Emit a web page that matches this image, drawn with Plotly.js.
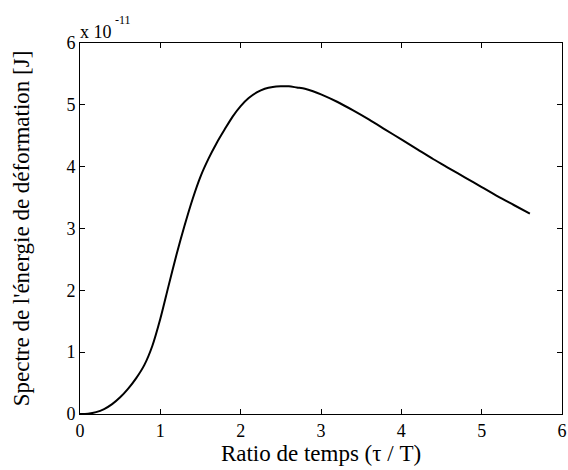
<!DOCTYPE html>
<html>
<head>
<meta charset="utf-8">
<script src="https://cdn.plot.ly/plotly-3.0.1.min.js"></script>
<style>html,body{margin:0;padding:0;background:#fff;}#chart{width:568px;height:470px;}</style>
</head>
<body>
<div id="chart"></div>
<script>
// Ratio de temps (tau / T)
const ratio = [0, 0.1, 0.2, 0.3, 0.4, 0.5, 0.6, 0.7, 0.8, 0.9, 1.0, 1.1, 1.2, 1.3, 1.4, 1.5, 1.6, 1.7, 1.8, 1.9,
  2.0, 2.1, 2.2, 2.3, 2.4, 2.5, 2.6, 2.7, 2.8, 2.9, 3.0, 3.2, 3.4, 3.6, 3.8, 4.0, 4.2, 4.4, 4.6, 4.8, 5.0, 5.2, 5.4, 5.6];
// Spectre de l'énergie de déformation, in units of 1e-11 J
const energie = [0, 0.005, 0.03, 0.08, 0.16, 0.27, 0.41, 0.58, 0.79, 1.10, 1.54, 2.06, 2.57, 3.04, 3.47, 3.84, 4.13, 4.38, 4.60, 4.81,
  4.98, 5.11, 5.20, 5.26, 5.29, 5.30, 5.30, 5.28, 5.26, 5.22, 5.17, 5.05, 4.91, 4.76, 4.60, 4.44, 4.28, 4.12, 3.97, 3.82, 3.67, 3.52, 3.38, 3.24];
const xTicks = [0, 1, 2, 3, 4, 5, 6];
const yTicks = [0, 1, 2, 3, 4, 5, 6];
const exponentBase = 'x 10';
const exponentPower = '-11';

const fam = "Liberation Serif, 'Times New Roman', serif";
const tickFont = {family: fam, size: 18, color: '#000'};
const titleFont = {family: fam, size: 23, color: '#000'};

const axisCommon = {
  showline: true, linecolor: '#000', linewidth: 1, mirror: 'allticks',
  ticks: 'inside', ticklen: 5, tickcolor: '#000', tickwidth: 1,
  showgrid: false, zeroline: false, tickfont: tickFont, fixedrange: true
};

Plotly.newPlot('chart', [{
  x: ratio, y: energie, type: 'scatter', mode: 'lines',
  line: {color: '#000', width: 2, shape: 'spline', smoothing: 0.8},
  hoverinfo: 'skip'
}], {
  width: 568, height: 470,
  margin: {l: 80, r: 6, t: 43, b: 56},
  paper_bgcolor: '#fff', plot_bgcolor: '#fff',
  showlegend: false,
  font: tickFont,
  xaxis: Object.assign({}, axisCommon, {
    range: [0, 6], tickvals: xTicks, ticktext: xTicks.map(String),
    title: {text: 'Ratio de temps (τ / T)', font: titleFont, standoff: 2}
  }),
  yaxis: Object.assign({}, axisCommon, {
    range: [0, 6], tickvals: yTicks, ticktext: yTicks.map(String),
    title: {text: "Spectre de l'énergie de déformation [J]", font: titleFont, standoff: 30}
  }),
  annotations: [{
    xref: 'paper', yref: 'paper', x: 0, y: 1, xanchor: 'left', yanchor: 'bottom',
    text: exponentBase, showarrow: false, xshift: -2, yshift: -1,
    font: {family: fam, size: 18, color: '#000'}
  }, {
    xref: 'paper', yref: 'paper', x: 0, y: 1, xanchor: 'left', yanchor: 'bottom',
    text: exponentPower, showarrow: false, xshift: 33, yshift: 14,
    font: {family: fam, size: 12, color: '#000'}
  }]
}, {displayModeBar: false, staticPlot: true});
</script>
</body>
</html>
